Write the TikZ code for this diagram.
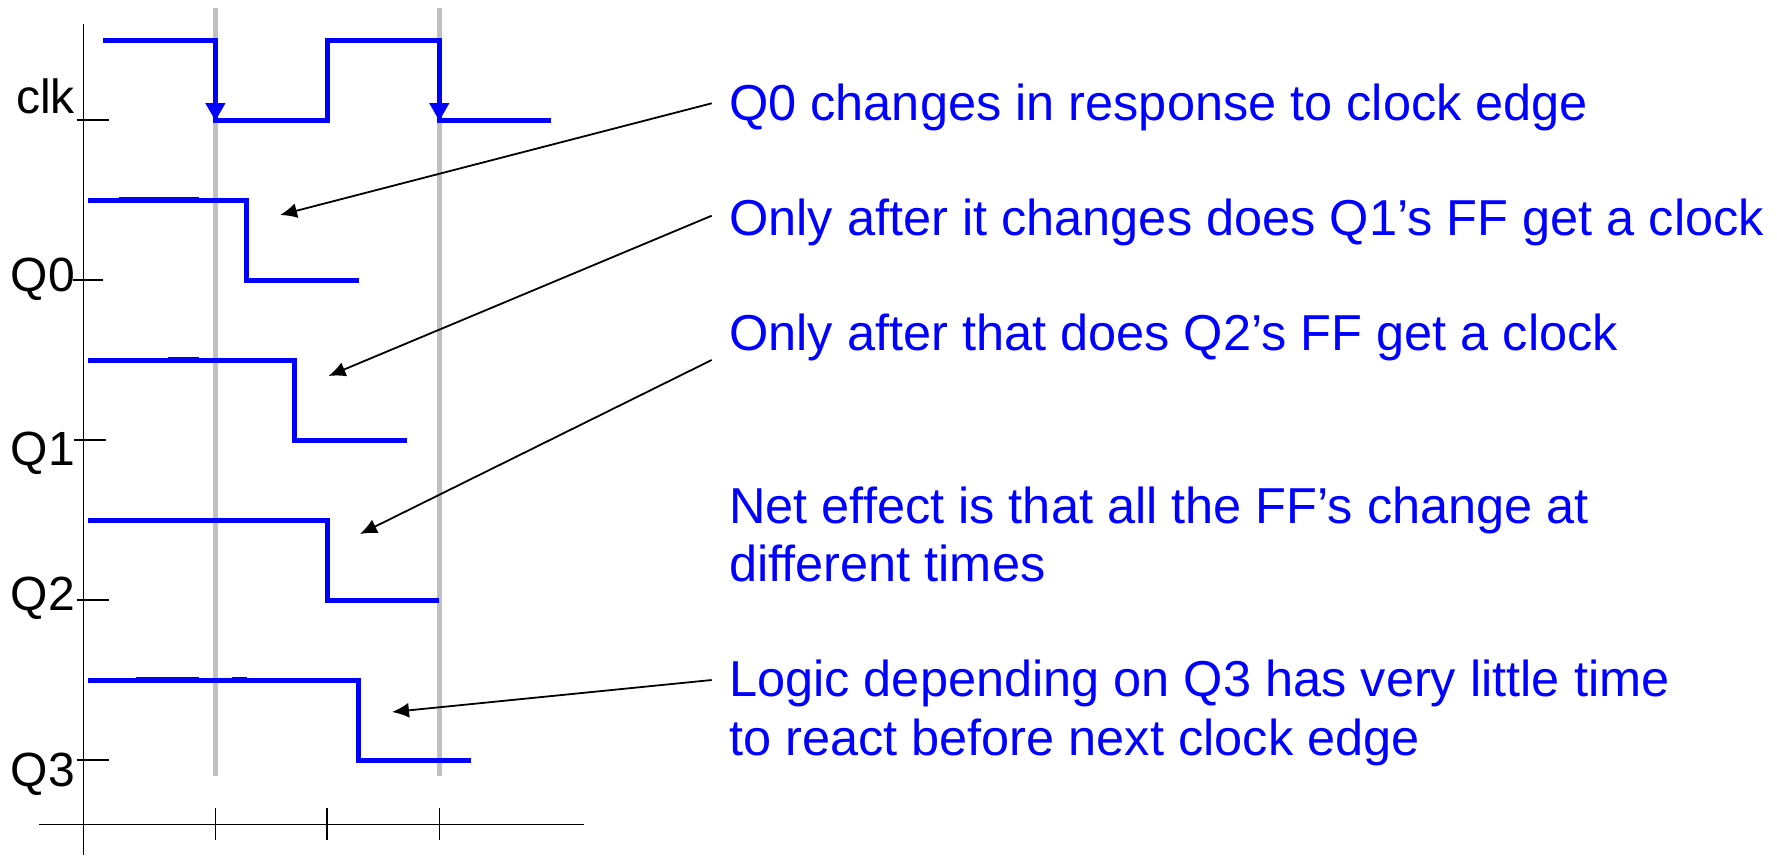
\documentclass[tikz,border=0pt]{standalone}
\usepackage{fontspec}
\setmainfont{Liberation Sans}
\usetikzlibrary{arrows.meta}
\definecolor{wblue}{RGB}{0,0,255}
\definecolor{lgray}{RGB}{192,192,192}
\begin{document}
\begin{tikzpicture}[x=1pt,y=-1pt,
  wave/.style={draw=wblue,line width=5pt,line join=miter},
  wavethick/.style={draw=wblue,line width=6.5pt},
  guide/.style={draw=lgray,line width=5.5pt},
  axis/.style={draw=black,line width=1.5pt},
  sig/.style={font=\fontsize{48}{54}\selectfont,inner sep=0pt,anchor=base east},
  note/.style={font=\fontsize{50.5}{58}\selectfont,text=wblue,inner sep=0pt,anchor=base west},
  ann/.style={draw=black,line width=1.8pt,-{Latex[length=17pt,width=15pt]}},
  clkarrow/.style={draw=wblue,line width=5pt,-{Triangle[length=18pt,width=19pt]}}
]
\useasboundingbox (0,0) rectangle (1777,855);

% guide lines
\draw[guide] (215.4,8.3) -- (215.4,776);
\draw[guide] (439.3,8.3) -- (439.3,776);

% axes
\draw[axis] (83.4,24) -- (83.4,855);
\draw[axis] (39,824.3) -- (583.6,824.3);
\foreach \x in {215.4,327.2,439.3} \draw[axis] (\x,808.3) -- (\x,840);
\draw[axis] (76.5,120) -- (109,120);
\draw[axis] (72.7,280) -- (103.3,280);
\draw[axis] (73.5,440) -- (106,440);
\draw[axis] (76.5,600) -- (109,600);
\draw[axis] (76.5,760) -- (109,760);

% signal labels
\node[sig] (lclk) at (75,113) {clk};
\node[sig] (lq0) at (75,291) {Q0};
\node[sig] (lq1) at (75,465) {Q1};
\node[sig] (lq2) at (75,610) {Q2};
\node[sig] (lq3) at (75,786) {Q3};

% clock waveform
\draw[wave] (103.3,40.3) -- (215.4,40.3) -- (215.4,120) -- (327.2,120) -- (327.2,40.3) -- (439.3,40.3) -- (439.3,120) -- (551,120);
\draw[clkarrow] (215.4,60) -- (215.4,121);
\draw[clkarrow] (439.3,60) -- (439.3,121);

% Q waveforms
\draw[wave] (88,200) -- (246.8,200) -- (246.8,280) -- (359,280);
\draw[wavethick] (119,200) -- (199,200);
\draw[wave] (88,360) -- (294.7,360) -- (294.7,440.3) -- (406.8,440.3);
\draw[wavethick] (168,360) -- (199,360);
\draw[wave] (88,520) -- (327.2,520) -- (327.2,600.3) -- (439.3,600.3);
\draw[wave] (88,680) -- (358.6,680) -- (358.6,760.3) -- (470.7,760.3);
\draw[wavethick] (136,680) -- (199,680);
\draw[wavethick] (231.5,680) -- (246.8,680);

% annotations
\node[note] (t1) at (729,120) {Q0 changes in response to clock edge};
\node[note] (t2) at (729,235) {Only after it changes does Q1’s FF get a clock};
\node[note] (t3) at (729,350) {Only after that does Q2’s FF get a clock};
\node[note] (t4a) at (729,523.3) {Net effect is that all the FF’s change at};
\node[note] (t4b) at (729,581.7) {different times};
\node[note] (t5a) at (729,696.7) {Logic depending on Q3 has very little time};
\node[note] (t5b) at (729,755) {to react before next clock edge};

% arrows
\coordinate (s1) at (711.7,103.3);
\coordinate (e1) at (280,215);
\coordinate (s2) at (711.7,215.7);
\coordinate (e2) at (328.5,376);
\coordinate (s3) at (711.7,360);
\coordinate (e3) at (360,534);
\coordinate (s4) at (711.7,680);
\coordinate (e4) at (392,712);
\draw[ann] (s1) -- (e1);
\draw[ann] (s2) -- (e2);
\draw[ann] (s3) -- (e3);
\draw[ann] (s4) -- (e4);
\end{tikzpicture}
\end{document}
